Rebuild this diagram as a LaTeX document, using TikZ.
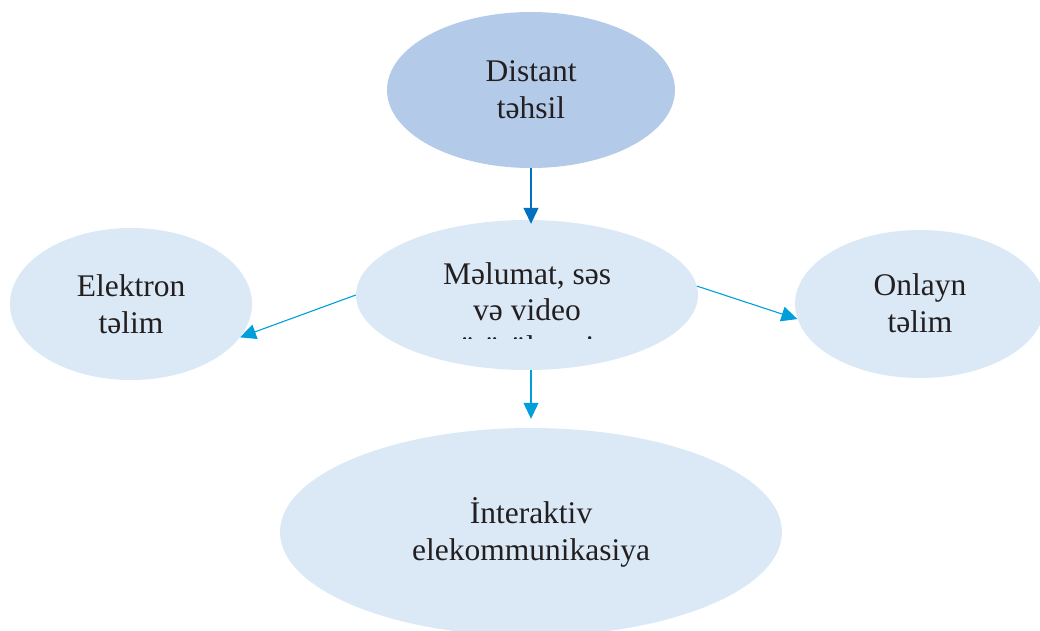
\documentclass[tikz,border=0pt]{standalone}
\usepackage{fontspec}
\setmainfont{Liberation Serif}
\usetikzlibrary{shapes.geometric,arrows.meta}
\definecolor{darkfill}{HTML}{B3CAE8}
\definecolor{lightfill}{HTML}{DAE9F5}
\definecolor{darkarrow}{HTML}{0070C0}
\definecolor{lightarrow}{HTML}{009FDC}
\definecolor{ink}{HTML}{231F20}
\begin{document}
\begin{tikzpicture}[x=1pt,y=-1pt,
  bubble/.style={ellipse,inner sep=0pt,draw=none},
  txt/.style={font=\fontsize{31.5}{36.5}\selectfont,text=ink,align=center,anchor=base,inner sep=0pt},
  conn/.style={line width=1.1pt,-{Triangle[length=16pt,width=15pt]}}
]
\useasboundingbox (0,0) rectangle (1040,630);
\clip (0,0) rectangle (1040,630);
\node[bubble,fill=darkfill,minimum width=288pt,minimum height=156pt] (dist) at (531,90) {};
\node[bubble,fill=lightfill,minimum width=342pt,minimum height=150pt] (mid) at (527,295) {};
\node[bubble,fill=lightfill,minimum width=242pt,minimum height=152pt] (elek) at (131,304) {};
\node[bubble,fill=lightfill,minimum width=250pt,minimum height=148pt] (onl) at (920,304) {};
\node[bubble,fill=lightfill,minimum width=502pt,minimum height=208pt] (inter) at (531,532) {};

\node[txt] (distt) at (531,118) {Distant\\təhsil};
\begin{scope}
\clip (356,220) rectangle (698,338.5);
\node[txt] (midt) at (527,357) {Məlumat, səs\\və video\\ötürülməsi};
\end{scope}
\node[txt] (elekt) at (131,333) {Elektron\\təlim};
\node[txt] (onlt) at (920,332) {Onlayn\\təlim};
\node[txt] (intert) at (531,560) {İnteraktiv\\elekommunikasiya};

\draw[conn,darkarrow] (dist.south) -- ([yshift=-4pt]dist.south |- mid.north);
\draw[conn,lightarrow] (mid.west) -- (elek.-17.5);
\draw[conn,lightarrow] (mid.3.5) -- (onl.187);
\draw[conn,lightarrow] (inter.north |- mid.south) -- ([yshift=9pt]inter.north);
\end{tikzpicture}
\end{document}
